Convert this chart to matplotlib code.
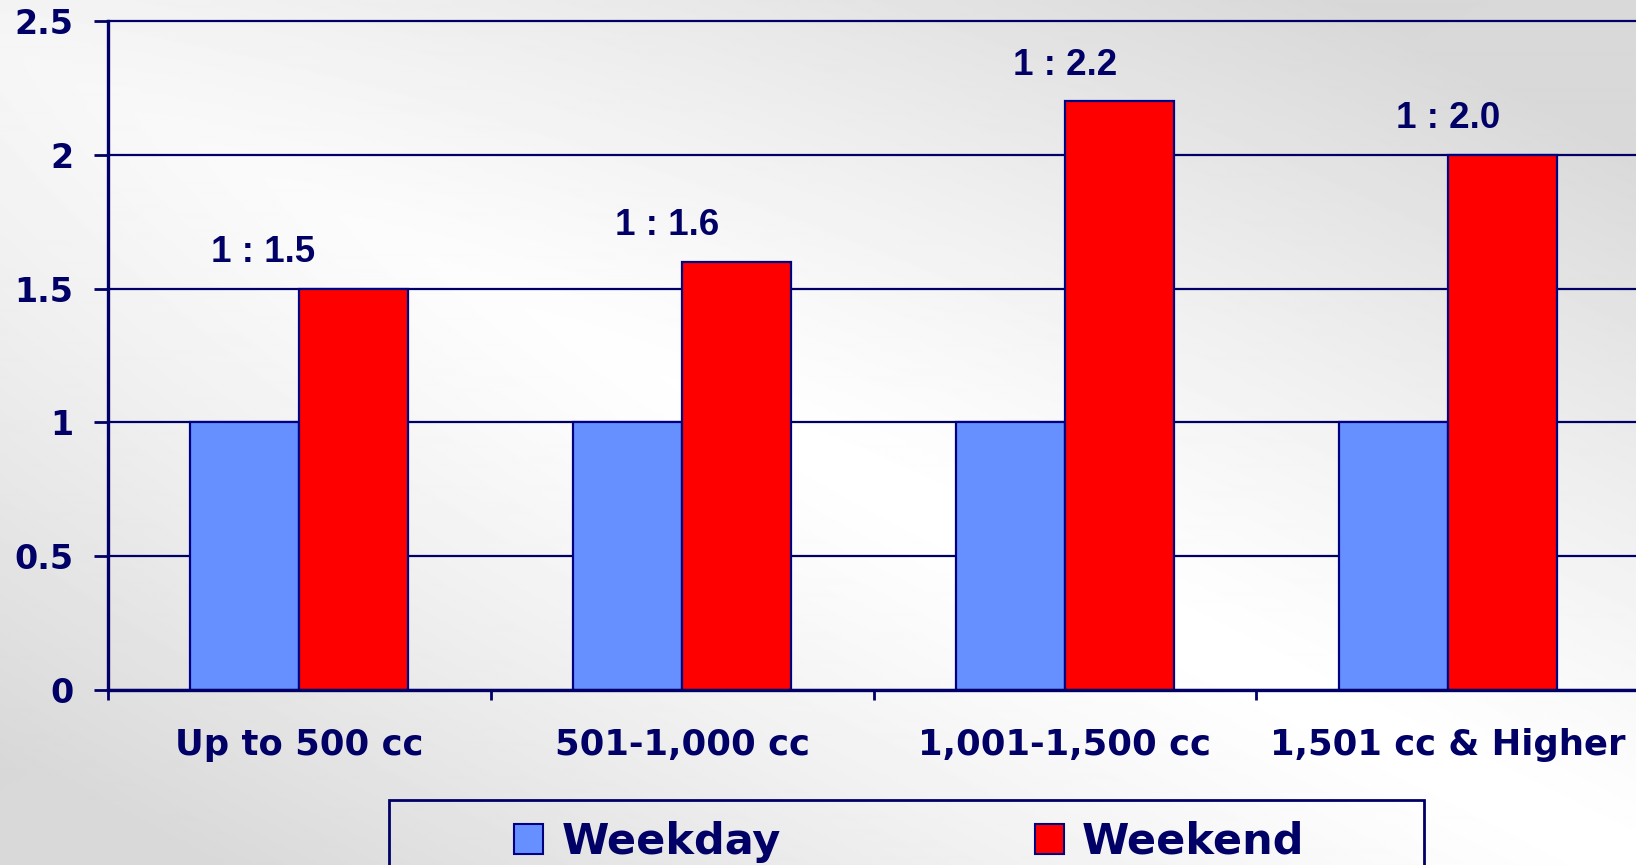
import matplotlib

matplotlib.use("Agg")
import matplotlib.pyplot as plt
import numpy as np
from matplotlib.patches import Patch, Rectangle

# data
categories = ["Up to 500 cc", "501-1,000 cc", "1,001-1,500 cc", "1,501 cc & Higher"]
weekday = [1.0, 1.0, 1.0, 1.0]
weekend = [1.5, 1.6, 2.2, 2.0]
ratio_labels = ["1 : 1.5", "1 : 1.6", "1 : 2.2", "1 : 2.0"]
label_shift = [-0.095, -0.04, 0.0, 0.0]
y_ticks = [0, 0.5, 1, 1.5, 2, 2.5]
y_tick_labels = ["0", "0.5", "1", "1.5", "2", "2.5"]

NAVY = "#000066"
EDGE = "#000080"
BLUE = "#6690FF"
RED = "#FF0000"
W, H = 1636, 865

fig = plt.figure(figsize=(W / 100, H / 100), dpi=100)

# background gradient: white band along the diagonal, grey towards two corners
bg = fig.add_axes([0, 0, 1, 1], zorder=-10)
yy, xx = np.mgrid[0:H:2, 0:W:2]
px, py = xx / W, yy / H
d = np.abs((py - 0.05) - 0.95 * px) / np.hypot(1, 0.95)
along = np.clip(1 - (px + py) / 1.2, 0, 1)
shade = 1 - 0.15 * np.clip(d / 0.6, 0, 1) ** 1.2 - 0.04 * along ** 2
bg.imshow(shade, cmap="gray", vmin=0, vmax=1, aspect="auto",
          extent=(0, 1, 0, 1), interpolation="bilinear")
bg.set_axis_off()

ax = fig.add_axes([108 / W, 1 - 690 / H, 1531 / W, (690 - 21) / H])
ax.set_facecolor("none")

x = np.arange(len(categories))
bw = 0.285
ax.bar(x - bw / 2, weekday, bw, color=BLUE, edgecolor=EDGE, linewidth=1.6,
       zorder=3, label="Weekday")
ax.bar(x + bw / 2, weekend, bw, color=RED, edgecolor=EDGE, linewidth=1.6,
       zorder=3, label="Weekend")

for xi, v, txt, sh in zip(x, weekend, ratio_labels, label_shift):
    ax.text(xi + sh, v + 0.07, txt, ha="center", va="bottom",
            fontsize=26.5, fontweight="bold", color=NAVY,
            family=["Liberation Sans", "DejaVu Sans"])

ax.set_xlim(-0.5, len(categories) - 0.5)
ax.set_ylim(0, 2.5)
ax.set_yticks(y_ticks)
ax.set_yticklabels(y_tick_labels)
ax.set_xticks(np.arange(len(categories) + 1) - 0.5)
ax.set_xticklabels([])
ax.set_xticks(x, minor=True)
ax.set_xticklabels(categories, minor=True)

ax.tick_params(axis="y", direction="out", length=10, width=2, color=NAVY,
               pad=15, labelsize=24, labelcolor=NAVY)
ax.tick_params(axis="x", which="major", direction="out", length=7, width=2,
               color=NAVY)
ax.tick_params(axis="x", which="minor", length=0, pad=27, labelsize=25.5,
               labelcolor=NAVY)
for lab in ax.get_yticklabels() + ax.get_xticklabels(minor=True):
    lab.set_fontweight("bold")

ax.grid(axis="y", color=NAVY, linewidth=1.6, zorder=1)
for gl in ax.get_ygridlines():
    gl.set_clip_on(False)
ax.set_axisbelow(True)
for side in ("top", "right"):
    ax.spines[side].set_visible(False)
for side in ("left", "bottom"):
    ax.spines[side].set_color(NAVY)
    ax.spines[side].set_linewidth(2.4)
    ax.spines[side].set_zorder(4)

# legend: frame drawn as a rectangle running off the bottom edge
fig.patches.append(Rectangle((389 / W, -0.05), (1424 - 389) / W,
                             0.05 + (865 - 800) / H, transform=fig.transFigure,
                             facecolor="none", edgecolor=NAVY, linewidth=2))
handles = [Patch(facecolor=BLUE, edgecolor=EDGE, linewidth=1.5),
           Patch(facecolor=RED, edgecolor=EDGE, linewidth=1.5)]
leg = fig.legend(handles, ["Weekday", "Weekend"], loc="center left",
                 bbox_to_anchor=(514 / W, 1 - 842 / H), ncol=2,
                 frameon=False, borderpad=0, borderaxespad=0,
                 handlelength=0.68, handleheight=0.68, handletextpad=0.42,
                 columnspacing=5.9,
                 prop={"weight": "bold", "size": 31})
for t in leg.get_texts():
    t.set_color(NAVY)

fig.savefig("out.png", dpi=100)
